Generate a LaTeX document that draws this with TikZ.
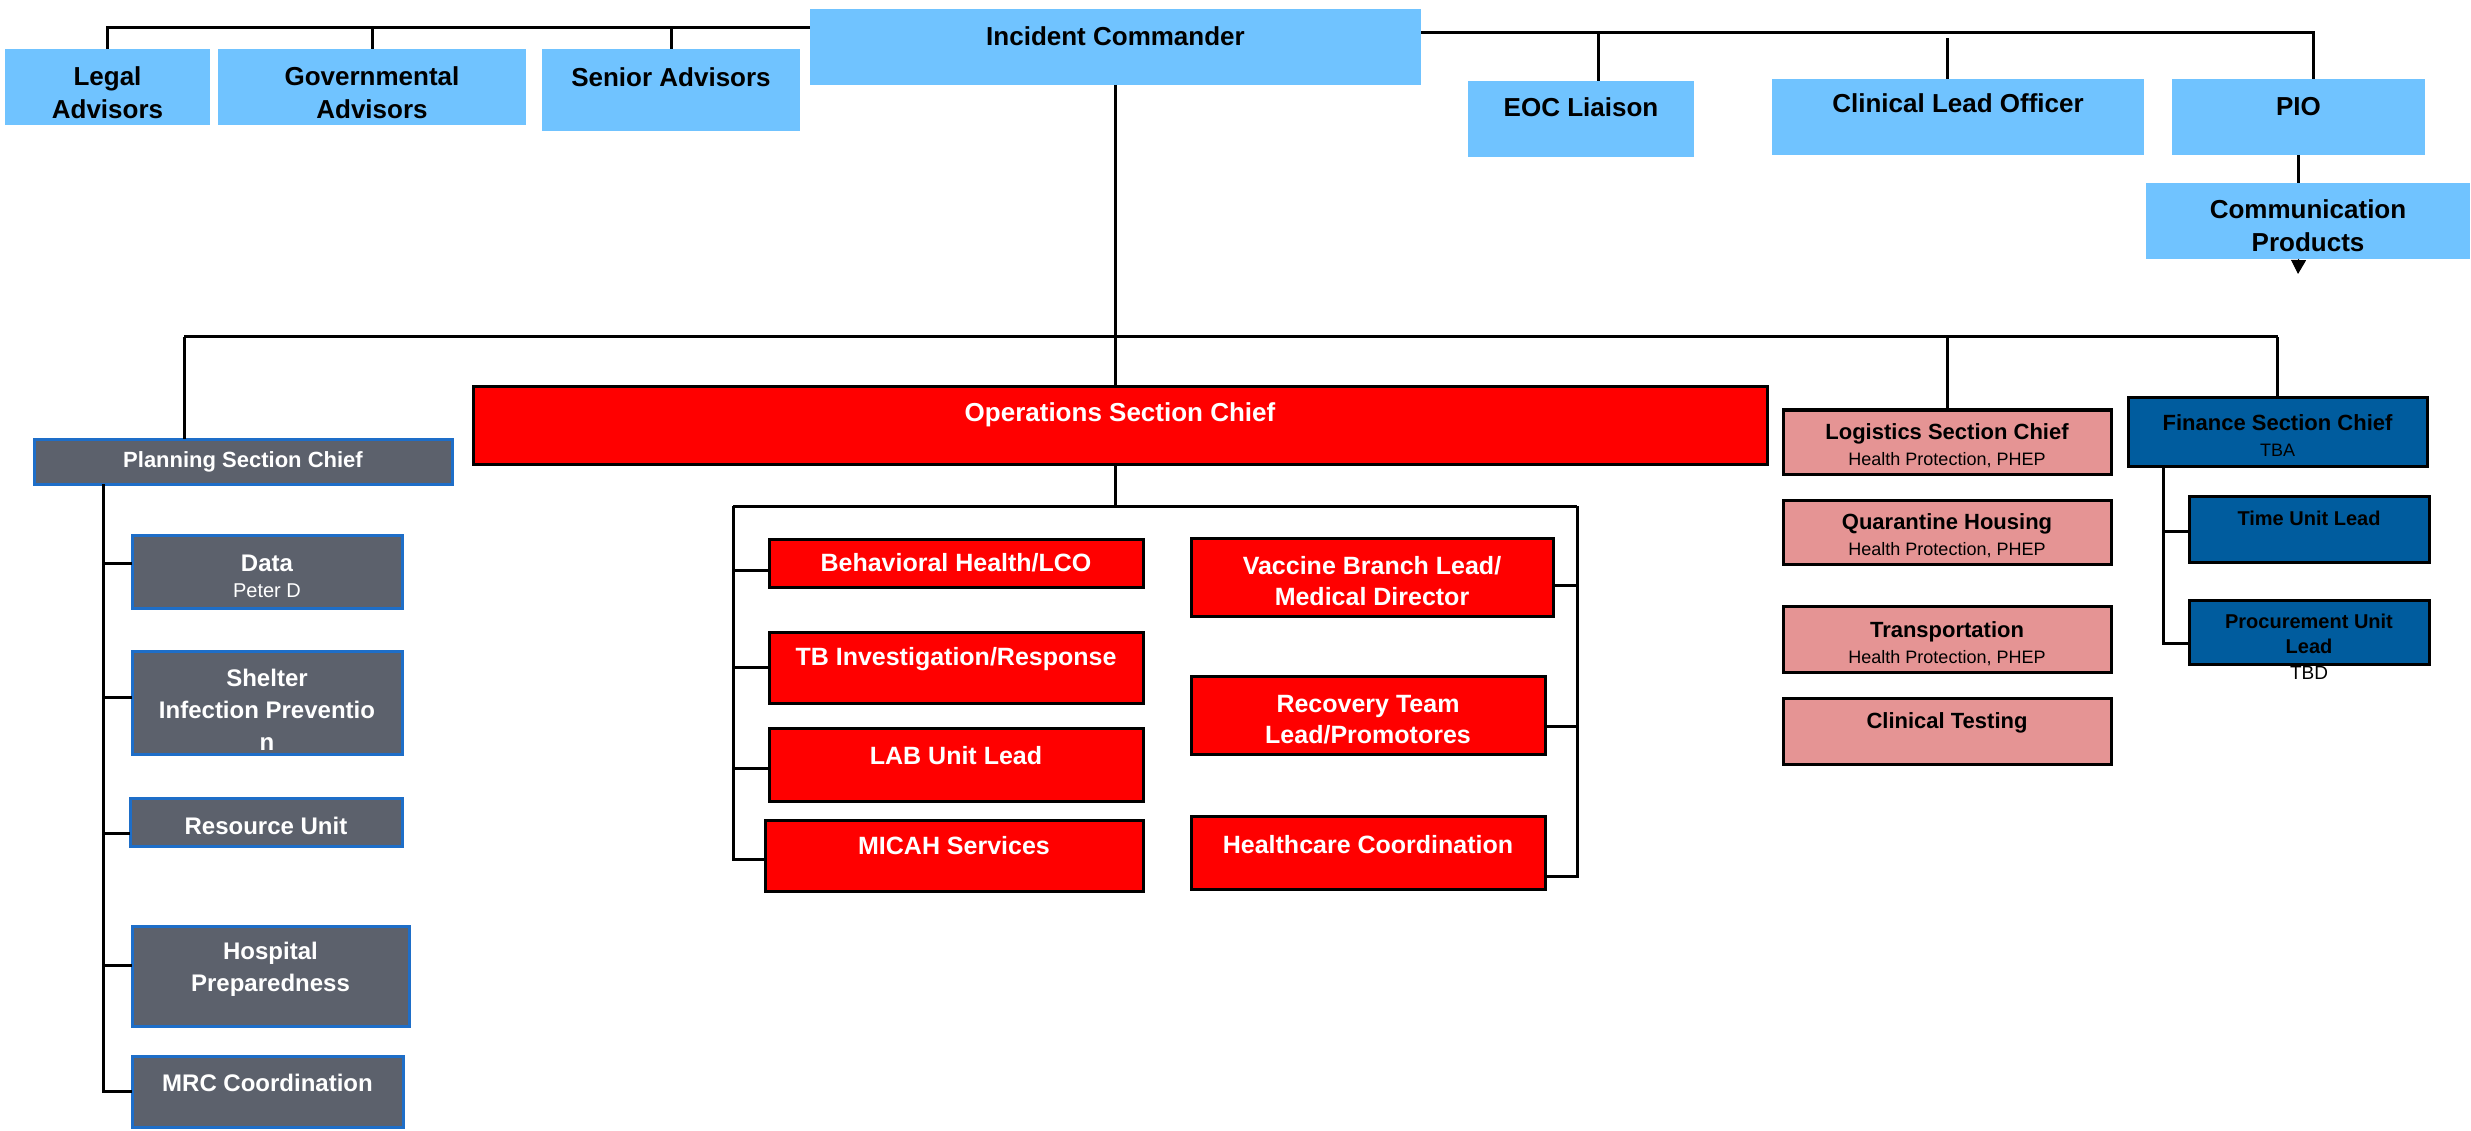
\documentclass[tikz,border=0pt]{standalone}
\usepackage{fontspec}
\setmainfont{Liberation Sans}
\usetikzlibrary{arrows.meta}

\definecolor{skyfill}{RGB}{112,195,255}
\definecolor{opsred}{RGB}{255,0,0}
\definecolor{plangray}{RGB}{92,97,108}
\definecolor{planedge}{RGB}{30,110,200}
\definecolor{logpink}{RGB}{229,148,148}
\definecolor{finblue}{RGB}{0,92,158}

\newcommand{\smallsub}{\fontsize{18}{22}\selectfont\mdseries}

\tikzset{
  box/.style={rectangle, inner sep=0pt, outer sep=0pt, anchor=north west},
  skybox/.style={box, fill=skyfill},
  redbox/.style={box, fill=opsred, draw=black, line width=3pt},
  graybox/.style={box, fill=plangray, draw=planedge, line width=3pt},
  pinkbox/.style={box, fill=logpink, draw=black, line width=3pt},
  finbox/.style={box, fill=finblue, draw=black, line width=3pt},
  toptxt/.style={font=\fontsize{26}{33}\selectfont\bfseries, align=center},
  redtxt/.style={font=\fontsize{25}{31}\selectfont\bfseries, text=white, align=center},
  graytxt/.style={font=\fontsize{24}{32}\selectfont\bfseries, text=white, align=center},
  pinktxt/.style={font=\fontsize{22}{26}\selectfont\bfseries, align=center},
  fintxt/.style={font=\fontsize{20}{25}\selectfont\bfseries, align=center},
  link/.style={line width=3pt},
}

\begin{document}
\begin{tikzpicture}[x=1pt, y=-1pt]
  \useasboundingbox (0,0) rectangle (2471,1131);

  % command staff
  \node[skybox, minimum width=205, minimum height=76] (legal) at (5,49) {};
  \node[skybox, minimum width=308, minimum height=76] (gov) at (218,49) {};
  \node[skybox, minimum width=258, minimum height=82] (senior) at (542,49) {};
  \node[skybox, minimum width=611, minimum height=76] (ic) at (810,9) {};
  \node[skybox, minimum width=226, minimum height=76] (eoc) at (1468,81) {};
  \node[skybox, minimum width=372, minimum height=76] (clo) at (1772,79) {};
  \node[skybox, minimum width=253, minimum height=76] (pio) at (2172,79) {};
  \node[skybox, minimum width=324, minimum height=76] (comm) at (2146,183) {};

  \node[toptxt] (legal-t) at (legal |- 0,93) {Legal\\Advisors};
  \node[toptxt] (gov-t) at (gov |- 0,93) {Governmental\\Advisors};
  \node[toptxt] (senior-t) at (senior |- 0,77) {Senior Advisors};
  \node[toptxt] (ic-t) at (ic |- 0,36) {Incident Commander};
  \node[toptxt] (eoc-t) at (eoc |- 0,107) {EOC Liaison};
  \node[toptxt] (clo-t) at (clo |- 0,103) {Clinical Lead Officer};
  \node[toptxt] (pio-t) at (pio |- 0,107) {PIO};
  \node[toptxt] (comm-t) at (comm |- 0,226) {Communication\\Products};

  \draw[link] (legal.north) |- (ic.west |- 0,28);
  \draw[link] (gov.north) -- (gov.north |- 0,28);
  \draw[link] (senior.north) -- (senior.north |- 0,28);
  \draw[link] (ic.east |- 0,33) -| ([xshift=15]pio.north);
  \draw[link] ([xshift=17]eoc.north) -- ([xshift=17]eoc.north |- 0,33);
  \draw[link] ([xshift=-11]clo.north) -- ([xshift=-11]clo.north |- 0,38);
  \draw[link] (pio.south) -- (pio.south |- comm.north);
  \coordinate (comm-tip) at (2298,274);
  \draw[line width=1pt, -{Triangle[length=14pt, width=15pt]}] (pio.south |- comm.south) -- (comm-tip);

  % sections
  \node[redbox, minimum width=1294, minimum height=77] (ops) at (473,387) {};
  \node[graybox, minimum width=418, minimum height=45] (plan) at (34,439) {};
  \node[pinkbox, minimum width=328, minimum height=64] (log) at (1783,410) {};
  \node[finbox, minimum width=299, minimum height=68] (fin) at (2128,398) {};

  \node[toptxt, text=white] (ops-t) at (ops |- 0,415) {Operations Section Chief};
  \node[graytxt, font=\fontsize{22}{28}\selectfont\bfseries] (plan-t) at (plan |- 0,462) {Planning Section Chief};
  \node[pinktxt] (log-t) at (log |- 0,446) {Logistics Section Chief\\\smallsub Health Protection, PHEP};
  \node[pinktxt] (fin-t) at (fin |- 0,436) {Finance Section Chief\\\smallsub TBA};

  \draw[link] (ic.south) -- (ic.south |- ops.north);
  \coordinate (bus-l) at (184,337);
  \coordinate (bus-r) at (fin.north |- 0,337);
  \draw[link] (bus-l) -- (bus-r);
  \draw[link] (bus-l) -- (bus-l |- plan.north);
  \draw[link] (log.north) -- (log.north |- bus-l);
  \draw[link] (fin.north) -- (bus-r);

  % operations
  \node[redbox, minimum width=374, minimum height=48] (beh) at (769,539) {};
  \node[redbox, minimum width=374, minimum height=71] (tb) at (769,632) {};
  \node[redbox, minimum width=374, minimum height=73] (lab) at (769,728) {};
  \node[redbox, minimum width=378, minimum height=71] (micah) at (765,820) {};
  \node[redbox, minimum width=362, minimum height=78] (vac) at (1191,538) {};
  \node[redbox, minimum width=354, minimum height=78] (rec) at (1191,676) {};
  \node[redbox, minimum width=354, minimum height=73] (hc) at (1191,816) {};

  \node[redtxt] (beh-t) at (beh |- 0,563) {Behavioral Health/LCO};
  \node[redtxt] (tb-t) at (tb |- 0,659) {TB Investigation/Response};
  \node[redtxt] (lab-t) at (lab |- 0,756) {LAB Unit Lead};
  \node[redtxt] (micah-t) at (micah |- 0,846) {MICAH Services};
  \node[redtxt] (vac-t) at (vac |- 0,581) {Vaccine Branch Lead/\\Medical Director};
  \node[redtxt] (rec-t) at (rec |- 0,720) {Recovery Team\\Lead/Promotores};
  \node[redtxt] (hc-t) at (hc |- 0,845) {Healthcare Coordination};

  \coordinate (brk-l) at (733,506);
  \coordinate (brk-r) at (1577,506);
  \draw[link] (ops.south -| ic.south) -- (brk-l -| ic.south);
  \draw[link] (brk-l) -- (brk-r);
  \draw[link] (brk-l) |- ([yshift=-4]micah.west);
  \draw[link] (brk-r) |- ([yshift=-24]hc.east);
  \foreach \b/\s in {beh/-7, tb/0, lab/-4}
    \draw[link] ([yshift=\s]\b.west) -- ([yshift=\s]\b.west -| brk-l);
  \foreach \b/\s in {vac/-8, rec/-11}
    \draw[link] ([yshift=\s]\b.east) -- ([yshift=\s]\b.east -| brk-r);

  % planning
  \node[graybox, minimum width=270, minimum height=73] (data) at (132,535) {};
  \node[graybox, minimum width=270, minimum height=103] (shelter) at (132,651) {};
  \node[graybox, minimum width=272, minimum height=48] (res) at (130,798) {};
  \node[graybox, minimum width=277, minimum height=100] (hosp) at (132,926) {};
  \node[graybox, minimum width=271, minimum height=71] (mrc) at (132,1056) {};

  \node[graytxt] (data-t) at (data |- 0,576) {Data\\[-6pt]\fontsize{20}{22}\selectfont\mdseries Peter D};
  \node[graytxt] (shelter-t) at (shelter |- 0,710) {Shelter\\Infection Preventio\\n};
  \node[graytxt] (res-t) at (res |- 0,826) {Resource Unit};
  \node[graytxt] (hosp-t) at (hosp |- 0,969) {Hospital\\Preparedness};
  \node[graytxt] (mrc-t) at (mrc |- 0,1083) {MRC Coordination};

  \coordinate (p-stem) at (103,0);
  \draw[link] (plan.south -| p-stem) |- (mrc.west);
  \foreach \b/\s in {data/8, shelter/5, res/-11, hosp/11}
    \draw[link] ([yshift=\s]\b.west) -- ([yshift=\s]\b.west -| p-stem);

  % logistics and finance
  \node[pinkbox, minimum width=328, minimum height=64] (quar) at (1783,500) {};
  \node[pinkbox, minimum width=328, minimum height=66] (trans) at (1783,606) {};
  \node[pinkbox, minimum width=328, minimum height=66] (clin) at (1783,698) {};
  \node[finbox, minimum width=240, minimum height=66] (time) at (2189,496) {};
  \node[finbox, minimum width=240, minimum height=64] (proc) at (2189,600) {};

  \node[pinktxt] (quar-t) at (quar |- 0,536) {Quarantine Housing\\\smallsub Health Protection, PHEP};
  \node[pinktxt] (trans-t) at (trans |- 0,644) {Transportation\\\smallsub Health Protection, PHEP};
  \node[pinktxt] (clin-t) at (clin |- 0,723) {Clinical Testing};
  \node[fintxt] (time-t) at (time |- 0,518) {Time Unit Lead};
  \node[fintxt] (proc-t) at (proc |- 0,634) {Procurement Unit\\Lead};
  \node[font=\fontsize{19}{22}\selectfont] (proc-tbd) at (proc |- 0,673) {TBD};

  \coordinate (f-stem) at (2163,0);
  \draw[link] (fin.south -| f-stem) |- ([yshift=-11]proc.west);
  \draw[link] ([yshift=-2]time.west) -- ([yshift=-2]time.west -| f-stem);
\end{tikzpicture}
\end{document}
